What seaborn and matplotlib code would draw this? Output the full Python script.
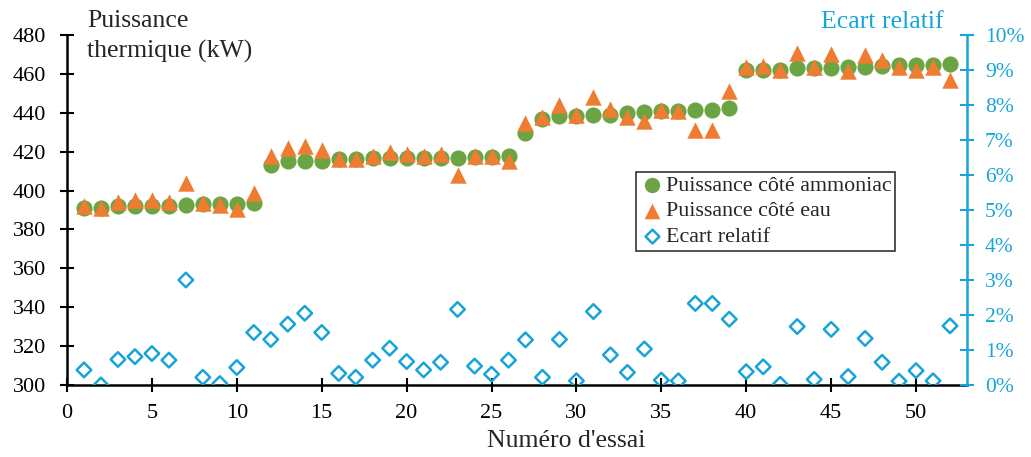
import numpy as np
import pandas as pd
import seaborn as sns
import matplotlib.pyplot as plt
from matplotlib.ticker import FuncFormatter

essai = list(range(1, 53))
p_ammoniac = [391, 391, 392, 392, 392, 392, 392.6, 393, 393, 393, 393.5,
              413, 415, 415, 415, 416, 416, 417, 417, 417, 417, 417, 417, 417.5, 417.5, 418,
              429.5, 437, 438.5, 438.5, 439, 439, 440, 440.5, 441, 441, 441.5, 441.5, 442.5,
              462, 462, 462, 463, 463, 463, 463.5, 463.5, 464, 464.5, 464.5, 464.7, 465]
p_eau = [392, 391, 394, 395, 395, 394, 404, 393.4, 392.6, 390.5, 399,
         418, 422, 423, 421, 416, 416, 418, 420, 419, 418, 419, 408, 418, 418, 415,
         435, 438, 444, 439, 448, 442, 437.6, 436, 441.5, 441, 431, 431, 451,
         463.5, 464, 462, 470.6, 463.4, 470, 461.5, 469.8, 467, 463.4, 462, 463.5, 457]
ecart = [0.43, 0.0, 0.73, 0.81, 0.90, 0.71, 3.0, 0.22, 0.04, 0.50, 1.5,
         1.3, 1.74, 2.05, 1.5, 0.33, 0.22, 0.71, 1.05, 0.67, 0.43, 0.65, 2.16, 0.54, 0.31, 0.71,
         1.29, 0.22, 1.3, 0.12, 2.1, 0.86, 0.36, 1.03, 0.14, 0.12, 2.33, 2.33, 1.88,
         0.38, 0.52, 0.02, 1.67, 0.16, 1.59, 0.24, 1.33, 0.65, 0.11, 0.41, 0.12, 1.69]

df = pd.DataFrame({"essai": essai, "ammoniac": p_ammoniac, "eau": p_eau, "ecart": ecart})

sns.set_style("white")
plt.rcParams["font.family"] = ["Liberation Serif", "DejaVu Serif"]

green = "#6ca443"
orange = "#ee7d31"
cyan = "#18a4d8"

fig = plt.figure(figsize=(10.31, 4.57), dpi=100)
ax = fig.add_axes([67 / 1031, 1 - 385 / 457, 900 / 1031, 350 / 457])
ax2 = ax.twinx()

sns.scatterplot(data=df, x="essai", y="ammoniac", ax=ax, marker="o", color=green,
                s=135, linewidth=0, label="Puissance côté ammoniac", zorder=3)
sns.scatterplot(data=df, x="essai", y="eau", ax=ax, marker="^", color=orange,
                s=140, linewidth=0, label="Puissance côté eau", zorder=4)
sns.scatterplot(data=df, x="essai", y="ecart", ax=ax2, marker="D", facecolor="none",
                edgecolor=cyan, s=55, linewidth=1.8, label="Ecart relatif", zorder=3)

ax.set_xlim(0, 53)
ax.set_ylim(300, 480)
ax.set_xticks(range(0, 51, 5))
ax.set_yticks(range(300, 481, 20))
ax2.set_ylim(0, 10)
ax2.set_yticks(range(0, 11))
ax2.yaxis.set_major_formatter(FuncFormatter(lambda v, p: f"{int(v)}%"))

ax.set_xlabel("")
ax.set_ylabel("")
ax2.set_ylabel("")

ax.spines["top"].set_visible(False)
ax2.spines["top"].set_visible(False)
ax2.spines["left"].set_visible(False)
ax2.spines["bottom"].set_visible(False)
ax.spines["right"].set_visible(False)
ax.spines["left"].set_color("black")
ax.spines["bottom"].set_color("black")
ax.spines["left"].set_linewidth(1.8)
ax.spines["bottom"].set_linewidth(1.8)
ax2.spines["right"].set_color(cyan)
ax2.spines["right"].set_linewidth(1.8)

ax.tick_params(axis="y", direction="inout", length=10, width=1.5, labelsize=16,
               colors="black", left=True, pad=10)
ax.tick_params(axis="x", direction="inout", length=10, width=1.5, labelsize=16,
               colors="black", bottom=True, pad=9)
ax2.tick_params(axis="y", direction="inout", length=10, width=1.5, labelsize=15.5,
                colors=cyan, right=True, pad=8)

# combined legend
h1, l1 = ax.get_legend_handles_labels()
h2, l2 = ax2.get_legend_handles_labels()
ax.get_legend().remove()
ax2.get_legend().remove()
leg = ax.legend(h1 + h2, l1 + l2, loc="upper left", bbox_to_anchor=(569 / 900, 1 - 137 / 350),
                frameon=True, fancybox=False, edgecolor="black", fontsize=15.8,
                handletextpad=0.0, borderpad=0.15, labelspacing=0.25, markerscale=0.95,
                borderaxespad=0, handlelength=1.2)
leg.get_frame().set_linewidth(1.2)
leg.set_zorder(10)

fig.text(87 / 1031, 1 - 10 / 457, "Puissance\nthermique (kW)", fontsize=18.5,
         ha="left", va="top", linespacing=1.45)
fig.text(882 / 1031, 1 - 22 / 457, "Ecart relatif", fontsize=18.5, color=cyan,
         ha="center", va="center")
fig.text(566 / 1031, 1 - 441 / 457, "Numéro d'essai", fontsize=18.5, ha="center", va="center")

fig.savefig("out.png", dpi=100)
